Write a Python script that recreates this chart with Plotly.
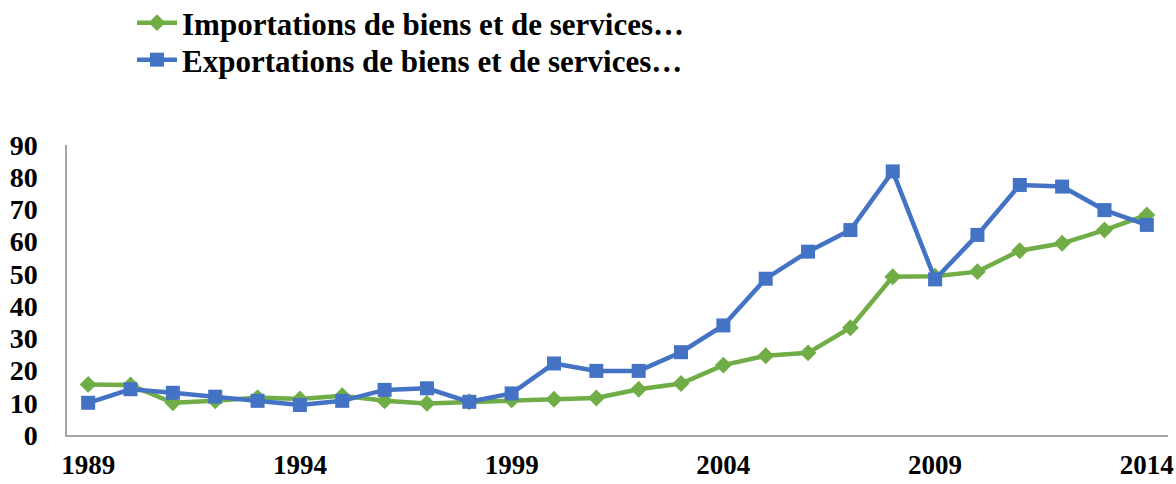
import plotly.graph_objects as go

years = list(range(1989, 2015))
imports = [15.7, 15.5, 10.0, 10.6, 11.6, 11.2, 12.2, 10.6, 9.8, 10.3, 10.9, 11.1, 11.5,
           14.2, 16.0, 21.7, 24.6, 25.5, 33.3, 49.1, 49.3, 50.7, 57.2, 59.5, 63.6, 68.3]
exports = [10.0, 14.2, 13.1, 11.9, 10.6, 9.3, 10.6, 14.0, 14.5, 10.3, 12.9, 22.2, 19.9,
           19.9, 25.7, 34.0, 48.5, 56.9, 63.6, 81.8, 48.3, 62.1, 77.6, 77.1, 69.8, 65.2]
x_ticks = [1989, 1994, 1999, 2004, 2009, 2014]
y_ticks = [0, 10, 20, 30, 40, 50, 60, 70, 80, 90]
names = ["Importations de biens et de services…", "Exportations de biens et de services…"]

font_family = "Liberation Serif"

fig = go.Figure()
fig.add_trace(go.Scatter(
    x=years, y=imports, name=names[0], mode="lines+markers",
    line=dict(color="#70AD47", width=4.5),
    marker=dict(symbol="diamond", size=13, color="#70AD47"),
    legend="legend",
))
fig.add_trace(go.Scatter(
    x=years, y=exports, name=names[1], mode="lines+markers",
    line=dict(color="#4472C4", width=4.5),
    marker=dict(symbol="square", size=14, color="#4472C4"),
    legend="legend2",
))

# plot area: x 67..1168, y 145..435 (pixels)
def leg_y(px):
    return (435 - px) / 290

legend_common = dict(
    xref="paper", yref="paper",
    x=(132 - 67) / 1101, xanchor="left", yanchor="middle",
    font=dict(family=font_family, size=31, color="black", weight="bold"),
    bgcolor="rgba(0,0,0,0)", itemwidth=40,
)

fig.update_layout(
    width=1176, height=484,
    margin=dict(l=67, r=8, t=145, b=49, autoexpand=False),
    paper_bgcolor="white", plot_bgcolor="white",
    font=dict(family=font_family, color="black", size=28),
    showlegend=True,
    legend=dict(legend_common, y=leg_y(23)),
    legend2=dict(legend_common, y=leg_y(60)),
    xaxis=dict(
        range=[1988.5, 2014.5], tickmode="array", tickvals=x_ticks,
        ticktext=[str(t) for t in x_ticks],
        showgrid=False, zeroline=False,
        showline=True, linecolor="#a6a6a6", linewidth=1.5,
        ticks="outside", ticklen=5, tickcolor="rgba(0,0,0,0)",
        tickfont=dict(family=font_family, size=27, weight="bold"),
    ),
    yaxis=dict(
        range=[0, 90], tickmode="array", tickvals=y_ticks,
        showgrid=False, zeroline=False,
        showline=True, linecolor="#a6a6a6", linewidth=1.5,
        ticks="outside", ticklen=22, tickcolor="rgba(0,0,0,0)",
        tickfont=dict(family=font_family, size=28, weight="bold"),
    ),
)

fig.write_html("out.html", config={"displayModeBar": False},
               post_script="document.body.style.margin='0px';")
